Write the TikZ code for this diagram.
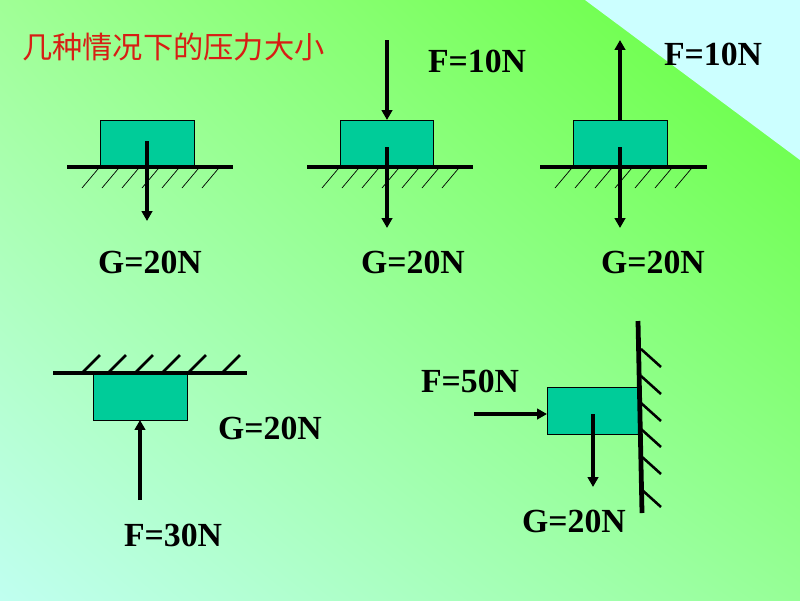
\documentclass[tikz,border=0pt]{standalone}
\usepackage{fontspec}
\setmainfont{Liberation Serif}
\newfontfamily\cjk{Noto Sans CJK SC}
\usetikzlibrary{arrows.meta,shadings}
\definecolor{blockgreen}{RGB}{0,204,153}
\definecolor{titlered}{RGB}{215,30,20}
\definecolor{bgul}{RGB}{160,255,150}
\definecolor{bgur}{RGB}{100,255,60}
\definecolor{bgll}{RGB}{192,255,240}
\definecolor{bglr}{RGB}{150,255,150}
\definecolor{corner}{RGB}{204,255,255}
\begin{document}
\begin{tikzpicture}[x=0.025cm, y=-0.025cm,
    block/.style={fill=blockgreen, draw=black, line width=0.7pt},
    ground/.style={line width=3.4pt},
    thinhatch/.style={line width=0.5pt},
    hatch/.style={line width=1.8pt},
    force/.style={line width=3.2pt, -{Triangle[length=7pt, width=7.4pt]}},
    lbl/.style={inner sep=0pt, font=\fontsize{24}{28}\selectfont\bfseries}]
        \useasboundingbox (0,0) rectangle (800,600);
        \shade[upper left=bgul, upper right=bgur, lower left=bgll, lower right=bglr] (0,0) rectangle (800,600);
        \fill[corner] (585,0) -- (800,0) -- (800,160) -- cycle;

        \node[anchor=west, inner sep=0pt, text=titlered, font=\cjk\fontsize{21.5}{24}\selectfont] (title) at (22,47) {几种情况下的压力大小};

        % on the ground
        \draw[block] (100,120) rectangle (194,167);
        \draw[block] (340,120) rectangle (433,167);
        \draw[block] (573,120) rectangle (667,167);
        \draw[ground] (67,167) -- (233,167);
        \draw[ground] (307,167) -- (473,167);
        \draw[ground] (540,167) -- (707,167);
        \foreach \dx in {0,240,473}
            \foreach \i in {0,...,6}
                \draw[thinhatch] (82+\dx+20*\i,188) -- (98+\dx+20*\i,169);

        \draw[force] (147,141) -- (147,221);
        \draw[force] (387,147) -- (387,228);
        \draw[force] (620,147) -- (620,228);
        \draw[force] (387,40) -- (387,120);
        \draw[force] (620,120) -- (620,40);

        \node[lbl] (g1) at (150,262) {G=20N};
        \node[lbl] (g2) at (413,262) {G=20N};
        \node[lbl] (g3) at (653,262) {G=20N};
        \node[lbl] (f2) at (477,61) {F=10N};
        \node[lbl] (f3) at (713,54) {F=10N};

        % under the ceiling
        \draw[block] (93,374) rectangle (187,420);
        \draw[ground] (53,373) -- (247,373);
        \foreach \x in {82,108,135,162,188,222}
            \draw[hatch] (\x,373) -- (\x+18,355);
        \draw[force] (140,500) -- (140,420);
        \node[lbl] (g4) at (270,428) {G=20N};
        \node[lbl] (f4) at (173,535) {F=30N};

        % against the wall
        \draw[block] (547,387) rectangle (640,434);
        \draw[line width=3.4pt] (638,321) -- (642,513);
        \foreach \y in {349,376,403,429,456,489}
            \draw[hatch] (641,\y) -- (661,\y+18);
        \draw[force] (474,414) -- (547,414);
        \draw[force] (593,414) -- (593,487);
        \node[lbl] (f5) at (470,381) {F=50N};
        \node[lbl] (g5) at (574,521) {G=20N};
\end{tikzpicture}
\end{document}
